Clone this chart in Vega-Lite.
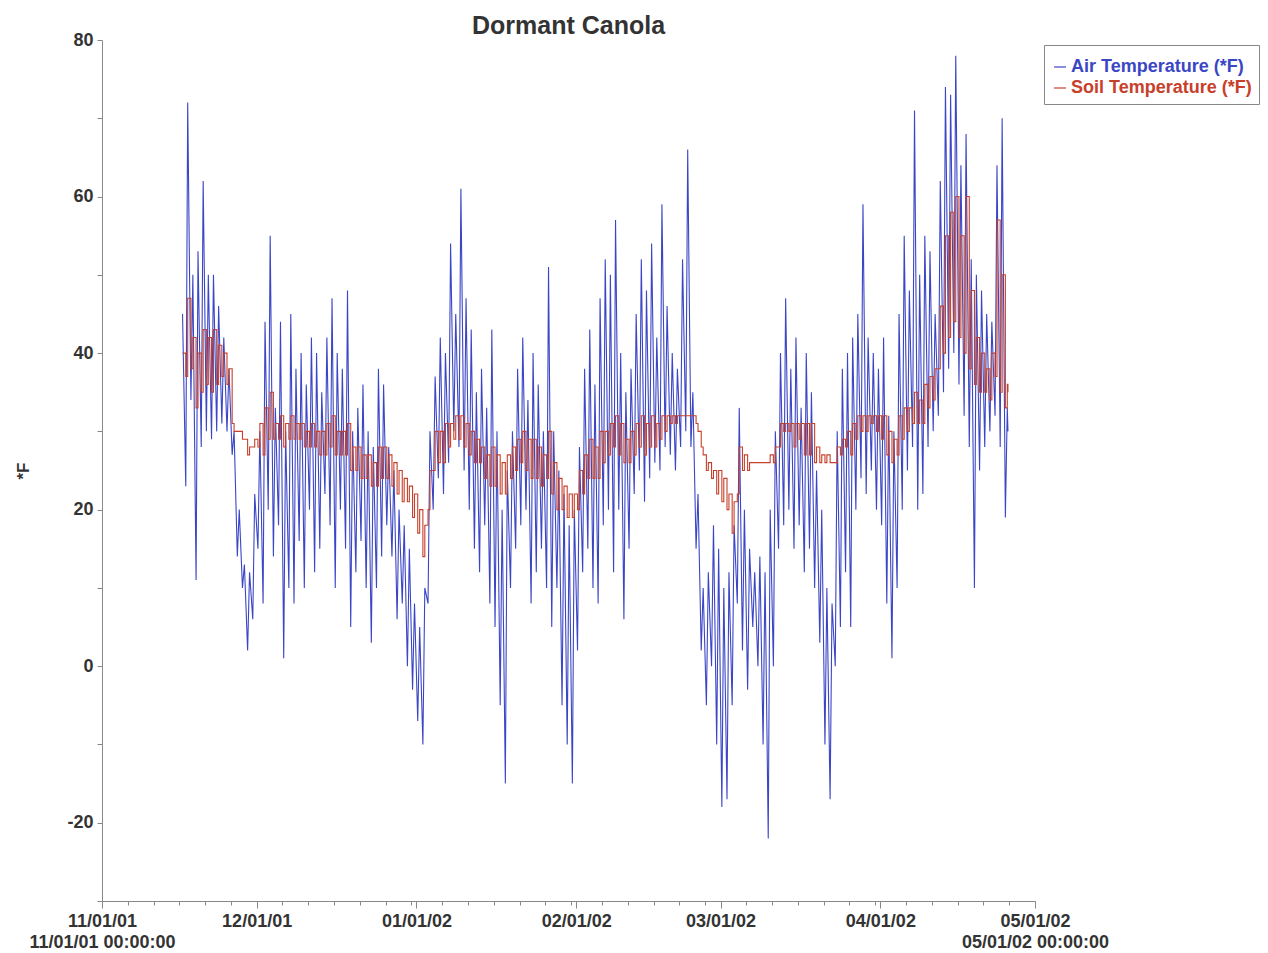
{
"$schema": "https://vega.github.io/schema/vega-lite/v6.json",
"width": 933,
"height": 861,
"autosize": {"type": "none"},
"padding": {"left": 102, "top": 40, "right": 233, "bottom": 52},
"background": "white",
"config": {"view": {"stroke": null}},
"title": {"text": "Dormant Canola", "fontSize": 25, "fontWeight": "bold", "font": "Liberation Sans", "color": "#333333", "anchor": "middle", "frame": "group", "offset": -8},
"data": {"values": [
{"t":"2001-11-16T15:00","a":45,"s":40},
{"t":"2001-11-17T06:00","a":23,"s":37},{"t":"2001-11-17T15:00","a":72,"s":47},
{"t":"2001-11-18T06:00","a":34,"s":38},{"t":"2001-11-18T15:00","a":50,"s":42},
{"t":"2001-11-19T06:00","a":11,"s":33},{"t":"2001-11-19T15:00","a":53,"s":40},
{"t":"2001-11-20T06:00","a":28,"s":35},{"t":"2001-11-20T15:00","a":62,"s":43},
{"t":"2001-11-21T06:00","a":30,"s":36},{"t":"2001-11-21T15:00","a":50,"s":42},
{"t":"2001-11-22T06:00","a":29,"s":35},{"t":"2001-11-22T15:00","a":50,"s":43},
{"t":"2001-11-23T06:00","a":30,"s":36},{"t":"2001-11-23T15:00","a":46,"s":41},
{"t":"2001-11-24T06:00","a":31,"s":37},{"t":"2001-11-24T15:00","a":42,"s":40},
{"t":"2001-11-25T06:00","a":30,"s":36},{"t":"2001-11-25T15:00","a":38,"s":38},
{"t":"2001-11-26T06:00","a":27,"s":31},{"t":"2001-11-26T15:00","a":30,"s":30},
{"t":"2001-11-27T06:00","a":14,"s":30},{"t":"2001-11-27T15:00","a":20,"s":30},
{"t":"2001-11-28T06:00","a":10,"s":29},{"t":"2001-11-28T15:00","a":13,"s":29},
{"t":"2001-11-29T06:00","a":2,"s":27},{"t":"2001-11-29T15:00","a":12,"s":28},
{"t":"2001-11-30T06:00","a":6,"s":28},{"t":"2001-11-30T15:00","a":22,"s":29},
{"t":"2001-12-01T06:00","a":15,"s":28},{"t":"2001-12-01T15:00","a":30,"s":31},
{"t":"2001-12-02T06:00","a":8,"s":27},{"t":"2001-12-02T15:00","a":44,"s":33},
{"t":"2001-12-03T06:00","a":20,"s":29},{"t":"2001-12-03T15:00","a":55,"s":35},
{"t":"2001-12-04T06:00","a":14,"s":29},{"t":"2001-12-04T15:00","a":33,"s":31},
{"t":"2001-12-05T06:00","a":18,"s":29},{"t":"2001-12-05T15:00","a":44,"s":32},
{"t":"2001-12-06T06:00","a":1,"s":28},{"t":"2001-12-06T15:00","a":30,"s":31},
{"t":"2001-12-07T06:00","a":10,"s":29},{"t":"2001-12-07T15:00","a":45,"s":32},
{"t":"2001-12-08T06:00","a":8,"s":29},{"t":"2001-12-08T15:00","a":38,"s":31},
{"t":"2001-12-09T06:00","a":16,"s":29},{"t":"2001-12-09T15:00","a":40,"s":31},
{"t":"2001-12-10T06:00","a":10,"s":28},{"t":"2001-12-10T15:00","a":36,"s":30},
{"t":"2001-12-11T06:00","a":20,"s":28},{"t":"2001-12-11T15:00","a":42,"s":31},
{"t":"2001-12-12T06:00","a":12,"s":28},{"t":"2001-12-12T15:00","a":40,"s":30},
{"t":"2001-12-13T06:00","a":15,"s":27},{"t":"2001-12-13T15:00","a":35,"s":30},
{"t":"2001-12-14T06:00","a":22,"s":27},{"t":"2001-12-14T15:00","a":42,"s":31},
{"t":"2001-12-15T06:00","a":18,"s":28},{"t":"2001-12-15T15:00","a":47,"s":32},
{"t":"2001-12-16T06:00","a":10,"s":27},{"t":"2001-12-16T15:00","a":40,"s":30},
{"t":"2001-12-17T06:00","a":20,"s":27},{"t":"2001-12-17T15:00","a":38,"s":30},
{"t":"2001-12-18T06:00","a":15,"s":27},{"t":"2001-12-18T15:00","a":48,"s":31},
{"t":"2001-12-19T06:00","a":5,"s":25},{"t":"2001-12-19T15:00","a":30,"s":28},
{"t":"2001-12-20T06:00","a":12,"s":25},{"t":"2001-12-20T15:00","a":33,"s":28},
{"t":"2001-12-21T06:00","a":16,"s":24},{"t":"2001-12-21T15:00","a":36,"s":27},
{"t":"2001-12-22T06:00","a":10,"s":24},{"t":"2001-12-22T15:00","a":30,"s":27},
{"t":"2001-12-23T06:00","a":3,"s":23},{"t":"2001-12-23T15:00","a":28,"s":26},
{"t":"2001-12-24T06:00","a":10,"s":23},{"t":"2001-12-24T15:00","a":38,"s":28},
{"t":"2001-12-25T06:00","a":14,"s":24},{"t":"2001-12-25T15:00","a":36,"s":28},
{"t":"2001-12-26T06:00","a":18,"s":24},{"t":"2001-12-26T15:00","a":28,"s":27},
{"t":"2001-12-27T06:00","a":14,"s":23},{"t":"2001-12-27T15:00","a":25,"s":26},
{"t":"2001-12-28T06:00","a":6,"s":22},{"t":"2001-12-28T15:00","a":20,"s":25},
{"t":"2001-12-29T06:00","a":8,"s":21},{"t":"2001-12-29T15:00","a":18,"s":24},
{"t":"2001-12-30T06:00","a":0,"s":21},{"t":"2001-12-30T15:00","a":15,"s":23},
{"t":"2001-12-31T06:00","a":-3,"s":19},{"t":"2001-12-31T15:00","a":8,"s":22},
{"t":"2002-01-01T06:00","a":-7,"s":17},{"t":"2002-01-01T15:00","a":5,"s":20},
{"t":"2002-01-02T06:00","a":-10,"s":14},{"t":"2002-01-02T15:00","a":10,"s":18},
{"t":"2002-01-03T06:00","a":8,"s":20},{"t":"2002-01-03T15:00","a":30,"s":25},
{"t":"2002-01-04T06:00","a":20,"s":25},{"t":"2002-01-04T15:00","a":37,"s":30},
{"t":"2002-01-05T06:00","a":24,"s":26},{"t":"2002-01-05T15:00","a":42,"s":30},
{"t":"2002-01-06T06:00","a":22,"s":26},{"t":"2002-01-06T15:00","a":40,"s":31},
{"t":"2002-01-07T06:00","a":26,"s":28},{"t":"2002-01-07T15:00","a":54,"s":31},
{"t":"2002-01-08T06:00","a":30,"s":29},{"t":"2002-01-08T15:00","a":45,"s":32},
{"t":"2002-01-09T06:00","a":28,"s":29},{"t":"2002-01-09T15:00","a":61,"s":32},
{"t":"2002-01-10T06:00","a":25,"s":28},{"t":"2002-01-10T15:00","a":47,"s":31},
{"t":"2002-01-11T06:00","a":20,"s":27},{"t":"2002-01-11T15:00","a":43,"s":30},
{"t":"2002-01-12T06:00","a":15,"s":26},{"t":"2002-01-12T15:00","a":35,"s":29},
{"t":"2002-01-13T06:00","a":12,"s":26},{"t":"2002-01-13T15:00","a":38,"s":28},
{"t":"2002-01-14T06:00","a":18,"s":24},{"t":"2002-01-14T15:00","a":33,"s":27},
{"t":"2002-01-15T06:00","a":8,"s":23},{"t":"2002-01-15T15:00","a":43,"s":28},
{"t":"2002-01-16T06:00","a":5,"s":23},{"t":"2002-01-16T15:00","a":30,"s":27},
{"t":"2002-01-17T06:00","a":-5,"s":22},{"t":"2002-01-17T15:00","a":20,"s":26},
{"t":"2002-01-18T06:00","a":-15,"s":22},{"t":"2002-01-18T15:00","a":25,"s":27},
{"t":"2002-01-19T06:00","a":10,"s":24},{"t":"2002-01-19T15:00","a":30,"s":28},
{"t":"2002-01-20T06:00","a":15,"s":25},{"t":"2002-01-20T15:00","a":38,"s":29},
{"t":"2002-01-21T06:00","a":18,"s":26},{"t":"2002-01-21T15:00","a":42,"s":30},
{"t":"2002-01-22T06:00","a":20,"s":25},{"t":"2002-01-22T15:00","a":34,"s":29},
{"t":"2002-01-23T06:00","a":8,"s":24},{"t":"2002-01-23T15:00","a":40,"s":29},
{"t":"2002-01-24T06:00","a":12,"s":24},{"t":"2002-01-24T15:00","a":36,"s":28},
{"t":"2002-01-25T06:00","a":15,"s":23},{"t":"2002-01-25T15:00","a":30,"s":27},
{"t":"2002-01-26T06:00","a":10,"s":24},{"t":"2002-01-26T15:00","a":51,"s":30},
{"t":"2002-01-27T06:00","a":5,"s":22},{"t":"2002-01-27T15:00","a":30,"s":26},
{"t":"2002-01-28T06:00","a":10,"s":20},{"t":"2002-01-28T15:00","a":25,"s":24},
{"t":"2002-01-29T06:00","a":-5,"s":20},{"t":"2002-01-29T15:00","a":22,"s":23},
{"t":"2002-01-30T06:00","a":-10,"s":19},{"t":"2002-01-30T15:00","a":18,"s":22},
{"t":"2002-01-31T06:00","a":-15,"s":19},{"t":"2002-01-31T15:00","a":20,"s":22},
{"t":"2002-02-01T06:00","a":2,"s":20},{"t":"2002-02-01T15:00","a":28,"s":25},
{"t":"2002-02-02T06:00","a":12,"s":22},{"t":"2002-02-02T15:00","a":38,"s":27},
{"t":"2002-02-03T06:00","a":15,"s":24},{"t":"2002-02-03T15:00","a":43,"s":29},
{"t":"2002-02-04T06:00","a":10,"s":24},{"t":"2002-02-04T15:00","a":36,"s":28},
{"t":"2002-02-05T06:00","a":8,"s":24},{"t":"2002-02-05T15:00","a":47,"s":30},
{"t":"2002-02-06T06:00","a":18,"s":26},{"t":"2002-02-06T15:00","a":52,"s":30},
{"t":"2002-02-07T06:00","a":20,"s":27},{"t":"2002-02-07T15:00","a":50,"s":31},
{"t":"2002-02-08T06:00","a":12,"s":28},{"t":"2002-02-08T15:00","a":57,"s":32},
{"t":"2002-02-09T06:00","a":20,"s":27},{"t":"2002-02-09T15:00","a":40,"s":31},
{"t":"2002-02-10T06:00","a":6,"s":26},{"t":"2002-02-10T15:00","a":35,"s":29},
{"t":"2002-02-11T06:00","a":15,"s":26},{"t":"2002-02-11T15:00","a":38,"s":30},
{"t":"2002-02-12T06:00","a":22,"s":27},{"t":"2002-02-12T15:00","a":45,"s":31},
{"t":"2002-02-13T06:00","a":25,"s":28},{"t":"2002-02-13T15:00","a":52,"s":32},
{"t":"2002-02-14T06:00","a":21,"s":27},{"t":"2002-02-14T15:00","a":48,"s":31},
{"t":"2002-02-15T06:00","a":24,"s":28},{"t":"2002-02-15T15:00","a":54,"s":32},
{"t":"2002-02-16T06:00","a":26,"s":28},{"t":"2002-02-16T15:00","a":42,"s":31},
{"t":"2002-02-17T06:00","a":25,"s":29},{"t":"2002-02-17T15:00","a":59,"s":32},
{"t":"2002-02-18T06:00","a":28,"s":30},{"t":"2002-02-18T15:00","a":46,"s":32},
{"t":"2002-02-19T06:00","a":27,"s":31},{"t":"2002-02-19T15:00","a":40,"s":32},
{"t":"2002-02-20T06:00","a":25,"s":31},{"t":"2002-02-20T15:00","a":38,"s":32},
{"t":"2002-02-21T06:00","a":28,"s":32},{"t":"2002-02-21T15:00","a":52,"s":32},
{"t":"2002-02-22T06:00","a":30,"s":32},{"t":"2002-02-22T15:00","a":66,"s":32},
{"t":"2002-02-23T06:00","a":28,"s":32},{"t":"2002-02-23T15:00","a":35,"s":32},
{"t":"2002-02-24T06:00","a":15,"s":31},{"t":"2002-02-24T15:00","a":22,"s":30},
{"t":"2002-02-25T06:00","a":2,"s":28},{"t":"2002-02-25T15:00","a":10,"s":27},
{"t":"2002-02-26T06:00","a":-5,"s":25},{"t":"2002-02-26T15:00","a":12,"s":26},
{"t":"2002-02-27T06:00","a":0,"s":24},{"t":"2002-02-27T15:00","a":18,"s":25},
{"t":"2002-02-28T06:00","a":-10,"s":22},{"t":"2002-02-28T15:00","a":15,"s":25},
{"t":"2002-03-01T06:00","a":-18,"s":21},{"t":"2002-03-01T15:00","a":10,"s":24},
{"t":"2002-03-02T06:00","a":-17,"s":20},{"t":"2002-03-02T15:00","a":12,"s":22},
{"t":"2002-03-03T06:00","a":-5,"s":17},{"t":"2002-03-03T15:00","a":18,"s":21},
{"t":"2002-03-04T06:00","a":8,"s":22},{"t":"2002-03-04T15:00","a":33,"s":28},
{"t":"2002-03-05T06:00","a":2,"s":25},{"t":"2002-03-05T15:00","a":20,"s":27},
{"t":"2002-03-06T06:00","a":-3,"s":25},{"t":"2002-03-06T15:00","a":15,"s":26},
{"t":"2002-03-07T06:00","a":5,"s":26},{"t":"2002-03-07T15:00","a":12,"s":26},
{"t":"2002-03-08T06:00","a":0,"s":26},{"t":"2002-03-08T15:00","a":14,"s":26},
{"t":"2002-03-09T06:00","a":-10,"s":26},{"t":"2002-03-09T15:00","a":12,"s":26},
{"t":"2002-03-10T06:00","a":-22,"s":26},{"t":"2002-03-10T15:00","a":20,"s":27},
{"t":"2002-03-11T06:00","a":0,"s":26},{"t":"2002-03-11T15:00","a":30,"s":28},
{"t":"2002-03-12T06:00","a":15,"s":28},{"t":"2002-03-12T15:00","a":40,"s":31},
{"t":"2002-03-13T06:00","a":18,"s":30},{"t":"2002-03-13T15:00","a":47,"s":31},
{"t":"2002-03-14T06:00","a":20,"s":30},{"t":"2002-03-14T15:00","a":38,"s":31},
{"t":"2002-03-15T06:00","a":15,"s":28},{"t":"2002-03-15T15:00","a":42,"s":31},
{"t":"2002-03-16T06:00","a":18,"s":29},{"t":"2002-03-16T15:00","a":33,"s":31},
{"t":"2002-03-17T06:00","a":12,"s":27},{"t":"2002-03-17T15:00","a":40,"s":31},
{"t":"2002-03-18T06:00","a":15,"s":27},{"t":"2002-03-18T15:00","a":35,"s":31},
{"t":"2002-03-19T06:00","a":10,"s":26},{"t":"2002-03-19T15:00","a":25,"s":28},
{"t":"2002-03-20T06:00","a":3,"s":26},{"t":"2002-03-20T15:00","a":20,"s":27},
{"t":"2002-03-21T06:00","a":-10,"s":26},{"t":"2002-03-21T15:00","a":10,"s":27},
{"t":"2002-03-22T06:00","a":-17,"s":26},{"t":"2002-03-22T15:00","a":8,"s":26},
{"t":"2002-03-23T06:00","a":0,"s":26},{"t":"2002-03-23T15:00","a":30,"s":28},
{"t":"2002-03-24T06:00","a":5,"s":27},{"t":"2002-03-24T15:00","a":38,"s":29},
{"t":"2002-03-25T06:00","a":12,"s":28},{"t":"2002-03-25T15:00","a":40,"s":30},
{"t":"2002-03-26T06:00","a":5,"s":27},{"t":"2002-03-26T15:00","a":42,"s":31},
{"t":"2002-03-27T06:00","a":20,"s":29},{"t":"2002-03-27T15:00","a":45,"s":32},
{"t":"2002-03-28T06:00","a":24,"s":30},{"t":"2002-03-28T15:00","a":59,"s":32},
{"t":"2002-03-29T06:00","a":22,"s":30},{"t":"2002-03-29T15:00","a":42,"s":32},
{"t":"2002-03-30T06:00","a":25,"s":31},{"t":"2002-03-30T15:00","a":40,"s":32},
{"t":"2002-03-31T06:00","a":20,"s":30},{"t":"2002-03-31T15:00","a":38,"s":32},
{"t":"2002-04-01T06:00","a":18,"s":29},{"t":"2002-04-01T15:00","a":42,"s":32},
{"t":"2002-04-02T06:00","a":8,"s":27},{"t":"2002-04-02T15:00","a":32,"s":30},
{"t":"2002-04-03T06:00","a":1,"s":26},{"t":"2002-04-03T15:00","a":30,"s":29},
{"t":"2002-04-04T06:00","a":10,"s":27},{"t":"2002-04-04T15:00","a":45,"s":32},
{"t":"2002-04-05T06:00","a":20,"s":29},{"t":"2002-04-05T15:00","a":55,"s":33},
{"t":"2002-04-06T06:00","a":25,"s":30},{"t":"2002-04-06T15:00","a":48,"s":33},
{"t":"2002-04-07T06:00","a":28,"s":31},{"t":"2002-04-07T15:00","a":71,"s":35},
{"t":"2002-04-08T06:00","a":20,"s":31},{"t":"2002-04-08T15:00","a":50,"s":34},
{"t":"2002-04-09T06:00","a":22,"s":31},{"t":"2002-04-09T15:00","a":55,"s":36},
{"t":"2002-04-10T06:00","a":28,"s":33},{"t":"2002-04-10T15:00","a":53,"s":37},
{"t":"2002-04-11T06:00","a":30,"s":34},{"t":"2002-04-11T15:00","a":45,"s":38},
{"t":"2002-04-12T06:00","a":32,"s":38},{"t":"2002-04-12T15:00","a":62,"s":46},
{"t":"2002-04-13T06:00","a":35,"s":40},{"t":"2002-04-13T15:00","a":74,"s":55},
{"t":"2002-04-14T06:00","a":38,"s":42},{"t":"2002-04-14T15:00","a":73,"s":58},
{"t":"2002-04-15T06:00","a":40,"s":44},{"t":"2002-04-15T15:00","a":78,"s":60},
{"t":"2002-04-16T06:00","a":36,"s":42},{"t":"2002-04-16T15:00","a":64,"s":55},
{"t":"2002-04-17T06:00","a":32,"s":40},{"t":"2002-04-17T15:00","a":68,"s":60},
{"t":"2002-04-18T06:00","a":28,"s":38},{"t":"2002-04-18T15:00","a":52,"s":48},
{"t":"2002-04-19T06:00","a":10,"s":36},{"t":"2002-04-19T15:00","a":50,"s":42},
{"t":"2002-04-20T06:00","a":25,"s":35},{"t":"2002-04-20T15:00","a":48,"s":40},
{"t":"2002-04-21T06:00","a":28,"s":35},{"t":"2002-04-21T15:00","a":45,"s":38},
{"t":"2002-04-22T06:00","a":30,"s":34},{"t":"2002-04-22T15:00","a":44,"s":40},
{"t":"2002-04-23T06:00","a":32,"s":37},{"t":"2002-04-23T15:00","a":64,"s":57},
{"t":"2002-04-24T06:00","a":28,"s":35},{"t":"2002-04-24T15:00","a":70,"s":50},
{"t":"2002-04-25T06:00","a":19,"s":33},{"t":"2002-04-25T15:00","a":33,"s":36},
{"t":"2002-04-25T18:00","a":30,"s":35}
]},
"resolve": {"scale": {"x": "shared", "y": "shared", "color": "shared"}, "axis": {"x": "independent"}},
"layer": [
{
"mark": {"type": "line", "strokeWidth": 1.1, "interpolate": "linear"},
"encoding": {
"x": {"field": "t", "type": "temporal",
"scale": {"domain": [{"year": 2001, "month": 11, "date": 1}, {"year": 2002, "month": 5, "date": 1}]},
"axis": {"orient": "bottom", "title": null, "format": "%m/%d/%y", "tickCount": {"interval": "month", "step": 1}, "grid": false,
"tickSize": 7, "tickColor": "#888888", "domainColor": "#888888", "labelPadding": 4,
"labelFont": "Liberation Sans", "labelFontSize": 18, "labelFontWeight": "bold", "labelColor": "#333333",
"labelFlush": false, "labelOverlap": false, "labelLineHeight": 21,
"labelExpr": "month(datum.value) == 10 || month(datum.value) == 4 ? [datum.label, datum.label + ' 00:00:00'] : datum.label"}},
"y": {"field": "a", "type": "quantitative",
"scale": {"domain": [-30, 80], "nice": false, "zero": false},
"axis": {"title": "*F", "titleFont": "Liberation Sans", "titleFontSize": 17, "titleFontWeight": "bold", "titleColor": "#333333", "titlePadding": 34,
"values": [-30, -20, -10, 0, 10, 20, 30, 40, 50, 60, 70, 80], "grid": false,
"labelExpr": "datum.value % 20 == 0 ? '' + datum.value : ''",
"tickSize": 5, "tickColor": "#888888", "domainColor": "#888888", "labelPadding": 4,
"labelFont": "Liberation Sans", "labelFontSize": 18, "labelFontWeight": "bold", "labelColor": "#333333"}},
"color": {"datum": "Air Temperature (*F)", "type": "nominal",
"scale": {"domain": ["Air Temperature (*F)", "Soil Temperature (*F)"], "range": ["#3b46c6", "#c8402a"]},
"legend": {"title": " ", "titleFontSize": 6, "titlePadding": 0, "orient": "none", "legendX": 942, "legendY": 5,
"symbolType": "stroke", "symbolSize": 144, "symbolStrokeWidth": 1.2,
"labelFont": "Liberation Sans", "labelFontSize": 18, "labelFontWeight": "bold", "labelOffset": 2,
"rowPadding": 3, "padding": 7, "strokeColor": "#888888", "fillColor": "white", "labelLimit": 400,
"encode": {"labels": {"update": {"fill": {"signal": "datum.value == 'Air Temperature (*F)' ? '#3b46c6' : '#c8402a'"}}}}}}
}
},
{
"mark": {"type": "line", "strokeWidth": 1.1, "interpolate": "step-after"},
"encoding": {
"x": {"field": "t", "type": "temporal",
"axis": {"orient": "bottom", "title": null, "labels": false, "domain": false, "grid": false, "tickSize": 4, "tickColor": "#888888",
"tickCount": {"interval": "day", "step": 5}}},
"y": {"field": "s", "type": "quantitative"},
"color": {"datum": "Soil Temperature (*F)", "type": "nominal"}
}
}
]
}
